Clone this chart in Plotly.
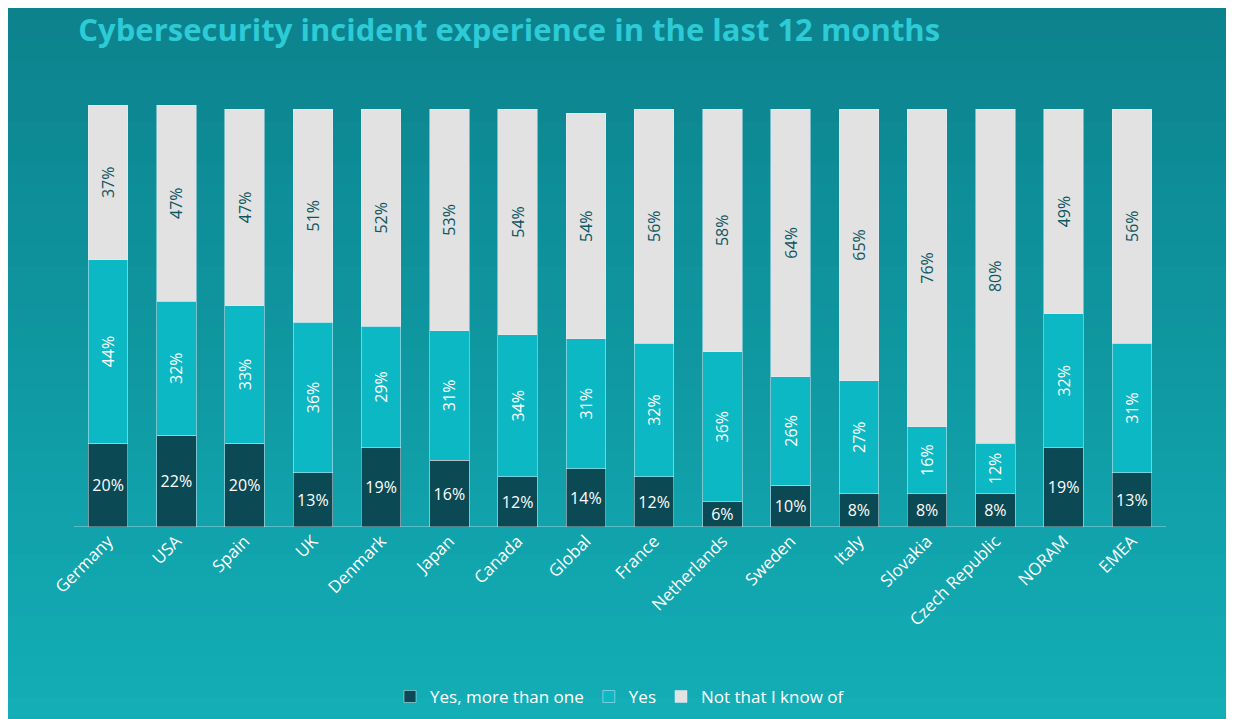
import plotly.graph_objects as go

countries = ["Germany","USA","Spain","UK","Denmark","Japan","Canada","Global","France",
             "Netherlands","Sweden","Italy","Slovakia","Czech Republic","NORAM","EMEA"]
more_than_one = [20,22,20,13,19,16,12,14,12,6,10,8,8,8,19,13]
yes = [44,32,33,36,29,31,34,31,32,36,26,27,16,12,32,31]
not_known = [37,47,47,51,52,53,54,54,56,58,64,65,76,80,49,56]

fig = go.Figure()
fig.add_bar(x=countries, y=more_than_one, name="Yes, more than one", marker_color="#0b4a55",
            text=[f"{v}%" for v in more_than_one], textposition="inside", textangle=0,
            insidetextanchor="middle", textfont=dict(color="white", size=16))
fig.add_bar(x=countries, y=yes, name="Yes", marker_color="#0bb8c4",
            text=[f"{v}%" for v in yes], textposition="inside", textangle=-90,
            insidetextanchor="middle", textfont=dict(color="white", size=16))
fig.add_bar(x=countries, y=not_known, name="Not that I know of", marker_color="#e2e2e2",
            text=[f"{v}%" for v in not_known], textposition="inside", textangle=-90,
            insidetextanchor="middle", textfont=dict(color="#0d5560", size=16))

shapes = []
n = 40
y0, y1 = -0.6, 1.35
for i in range(n):
    t = i / (n - 1)
    r = int(0x14 + (0x0c - 0x14) * t)
    g = int(0xb2 + (0x80 - 0xb2) * t)
    b = int(0xba + (0x8b - 0xba) * t)
    shapes.append(dict(type="rect", xref="paper", yref="paper", layer="below",
                       x0=-0.2, x1=1.2, y0=y0 + (y1 - y0) * i / n, y1=y0 + (y1 - y0) * (i + 1) / n + 0.003,
                       fillcolor=f"rgb({r},{g},{b})", line_width=0))
shapes.append(dict(type="line", xref="paper", yref="y", x0=0, x1=1, y0=0, y1=0,
                   line=dict(color="rgba(255,255,255,0.6)", width=1)))

fig.update_layout(
    barmode="stack", bargap=0.42, width=1234, height=719,
    paper_bgcolor="#14b2ba", plot_bgcolor="rgba(0,0,0,0)",
    margin=dict(l=66, r=76, t=97, b=197),
    font=dict(family="Open Sans", color="white"),
    title=dict(text="<b>Cybersecurity incident experience in the last 12 months</b>",
               x=0.057, xanchor="left", y=0.985, yanchor="top",
               font=dict(size=31, color="#2ccbd6", family="Open Sans")),
    xaxis=dict(tickangle=-45, tickfont=dict(size=17, color="white"), showgrid=False,
               range=[-0.5, 15.5]),
    yaxis=dict(visible=False, range=[0, 101]),
    legend=dict(orientation="h", x=0.5, xanchor="center", y=-0.36, yanchor="top",
                font=dict(size=17, color="white"), traceorder="normal",
                bgcolor="rgba(0,0,0,0)"),
    shapes=shapes, uniformtext=dict(mode="show", minsize=15),
)
fig.write_html("out.html")
